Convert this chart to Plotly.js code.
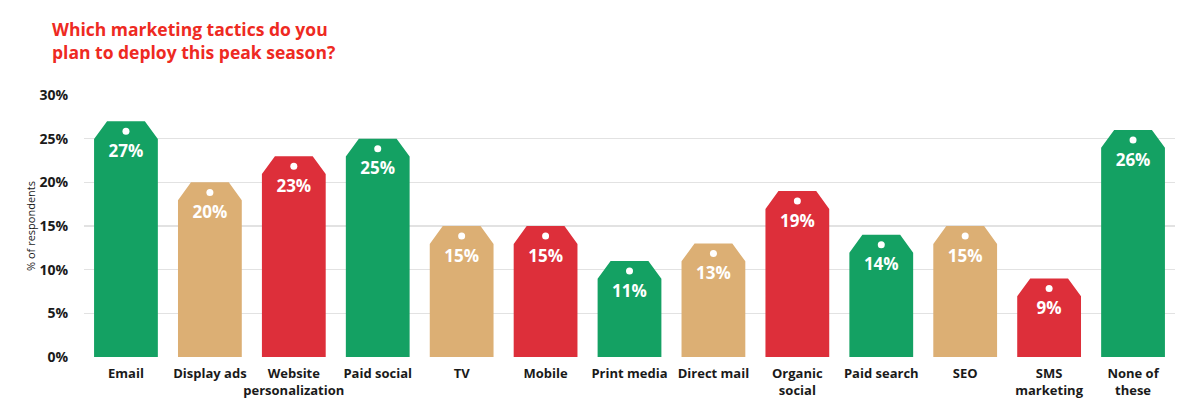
<!DOCTYPE html>
<html>
<head>
<meta charset="utf-8">
<script src="https://cdn.plot.ly/plotly-3.0.1.min.js"></script>
<style>html,body{margin:0;padding:0;background:#fff;}#chart{width:1200px;height:414px;}</style>
</head>
<body>
<div id="chart"></div>
<script>
const categories = ["Email","Display ads","Website<br>personalization","Paid social","TV","Mobile","Print media","Direct mail","Organic<br>social","Paid search","SEO","SMS<br>marketing","None of<br>these"];
const values = [27,20,23,25,15,15,11,13,19,14,15,9,26];
const colorGroup = ["green","tan","red","green","tan","red","green","tan","red","green","tan","red","green"];
const yTickVals = [0,5,10,15,20,25,30];
const yTickText = ["0%","5%","10%","15%","20%","25%","30%"];

const palette = {green:"#14a163", tan:"#dcaf74", red:"#dd2f3a"};
const halfW = 0.38, chamX = 0.155, chamY = 2.05;

const traces = [];
["green","tan","red"].forEach(g => {
  const xs = [], ys = [];
  values.forEach((v,i) => {
    if (colorGroup[i] !== g) return;
    xs.push(i-halfW, i-halfW, i-halfW+chamX, i+halfW-chamX, i+halfW, i+halfW, i-halfW, null);
    ys.push(0, v-chamY, v, v, v-chamY, 0, 0, null);
  });
  traces.push({type:"scatter", mode:"lines", x:xs, y:ys, fill:"toself", fillcolor:palette[g],
    line:{width:0,color:palette[g]}, hoverinfo:"skip", showlegend:false});
});
const idx = values.map((v,i)=>i);
traces.push({type:"scatter", mode:"markers", x:idx, y:values.map(v=>v-1.15),
  marker:{color:"#ffffff", size:7, line:{width:0}}, hoverinfo:"skip", showlegend:false});
traces.push({type:"scatter", mode:"text", x:idx, y:values.map(v=>v-3.6),
  text:values.map(v=>v+"%"), textposition:"middle center",
  textfont:{family:"Open Sans, sans-serif", size:17, color:"#ffffff", weight:700},
  hoverinfo:"skip", showlegend:false});

const layout = {
  width:1200, height:414,
  margin:{l:84, r:25, t:95, b:57},
  paper_bgcolor:"#ffffff", plot_bgcolor:"#ffffff",
  font:{family:"Open Sans, sans-serif", color:"#1a1a1a"},
  title:{text:"Which marketing tactics do you<br>plan to deploy this peak season?",
    font:{family:"Open Sans, sans-serif", size:17.5, color:"#ee2a22", weight:700},
    xref:"container", x:52/1200, xanchor:"left", yref:"container", y:1-36/414, yanchor:"top"},
  xaxis:{range:[-0.5,12.5], tickvals:idx, ticktext:categories, tickangle:0, showgrid:false, zeroline:false,
    showline:false, ticks:"outside", ticklen:4, tickcolor:"rgba(0,0,0,0)",
    tickfont:{family:"Open Sans, sans-serif", size:13, color:"#1a1a1a", weight:700}, fixedrange:true},
  yaxis:{range:[0,30], tickvals:yTickVals, ticktext:yTickText, showgrid:true, gridcolor:"#e2e2e2", gridwidth:1.3,
    zeroline:false, showline:false, ticks:"outside", ticklen:12, tickcolor:"rgba(0,0,0,0)",
    tickfont:{family:"Open Sans, sans-serif", size:14, color:"#1a1a1a", weight:700},
    title:{text:"% of respondents", font:{family:"Open Sans, sans-serif", size:11, color:"#1a1a1a"}, standoff:1},
    fixedrange:true}
};
Plotly.newPlot("chart", traces, layout, {displayModeBar:false, staticPlot:true});
</script>
</body>
</html>
